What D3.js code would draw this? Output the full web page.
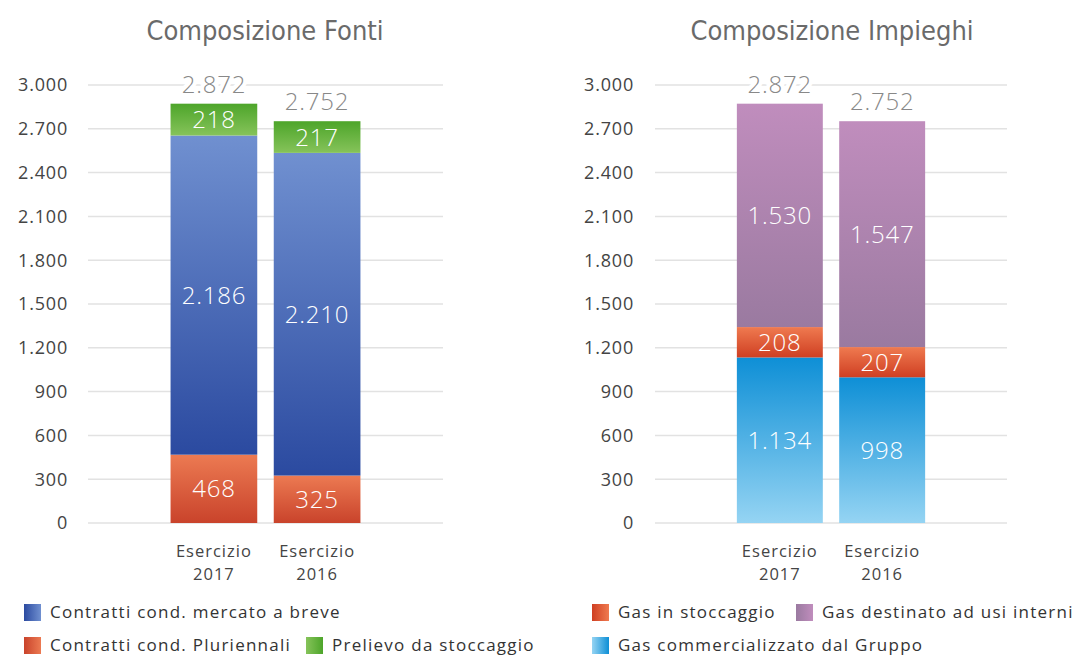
<!DOCTYPE html>
<html>
<head>
<meta charset="utf-8">
<script src="https://cdn.jsdelivr.net/npm/d3@7"></script>
<style>
  body { margin: 0; background: #fff; }
  svg text { font-family: "Open Sans", Lato, sans-serif; }
</style>
</head>
<body>
<svg id="chart" width="1085" height="656"></svg>
<script>
// data
var categories = ['2017', '2016'];
var categoryLines = [['Esercizio', '2017'], ['Esercizio', '2016']];
var yTicks = [0, 300, 600, 900, 1200, 1500, 1800, 2100, 2400, 2700, 3000];

var fontiKeys = ['pluriennali', 'breve', 'prelievo'];
var fontiPluriennali = [468, 325];
var fontiBreve = [2186, 2210];
var fontiPrelievo = [218, 217];
var fontiTotals = [2872, 2752];

var impieghiKeys = ['commerc', 'stoccaggio', 'interni'];
var impieghiCommerc = [1134, 998];
var impieghiStoccaggio = [208, 207];
var impieghiInterni = [1530, 1547];
var impieghiTotals = [2872, 2752];

// gradient colours (top, bottom)
var colors = {
  pluriennali: ['#ec7a52', '#c9432b'],
  breve: ['#7090d0', '#2b4aa0'],
  prelievo: ['#4da52a', '#86c35a'],
  commerc: ['#0e8fd6', '#95d4f3'],
  stoccaggio: ['#ef7a50', '#cf3f22'],
  interni: ['#c08dbd', '#9a7aa0']
};

var it = d3.formatLocale({decimal: ',', thousands: '.', grouping: [3], currency: ['€', '']});
var fmt = it.format(',d');

var svg = d3.select('#chart');
var defs = svg.append('defs');

Object.keys(colors).forEach(function (k) {
  var g = defs.append('linearGradient').attr('id', 'g-' + k)
    .attr('x1', 0).attr('y1', 0).attr('x2', 0).attr('y2', 1);
  g.append('stop').attr('offset', '0%').attr('stop-color', colors[k][0]);
  g.append('stop').attr('offset', '100%').attr('stop-color', colors[k][1]);
  var h = defs.append('linearGradient').attr('id', 'h-' + k)
    .attr('x1', 0).attr('y1', 0).attr('x2', 1).attr('y2', 0);
  h.append('stop').attr('offset', '0%').attr('stop-color', colors[k][1]);
  h.append('stop').attr('offset', '100%').attr('stop-color', colors[k][0]);
});

var y = d3.scaleLinear().domain([0, 3000]).range([523, 85]);

function buildRows(keys, arrays) {
  return categories.map(function (c, i) {
    var r = {cat: c};
    keys.forEach(function (k, j) { r[k] = arrays[j][i]; });
    return r;
  });
}

function drawPanel(opt) {
  var g = svg.append('g');
  var x = d3.scaleBand().domain(categories).range([opt.x0, opt.x1])
    .paddingInner(0.16).paddingOuter(0.8);

  // title
  g.append('text')
    .attr('x', opt.titleX).attr('y', 40)
    .attr('text-anchor', 'middle')
    .style('font-family', '"Liberation Sans Narrow", "DejaVu Sans Condensed", sans-serif')
    .style('font-size', '27px')
    .style('fill', '#6a6a6a')
    .text(opt.title);

  // grid
  g.append('g').selectAll('line').data(yTicks).enter().append('line')
    .attr('x1', opt.x0).attr('x2', opt.x1)
    .attr('y1', function (d) { return y(d); })
    .attr('y2', function (d) { return y(d); })
    .style('stroke', '#e2e2e2').style('stroke-width', 1.5);

  // y tick labels
  g.append('g').selectAll('text').data(yTicks).enter().append('text')
    .attr('x', opt.tickX)
    .attr('y', function (d) { return y(d); })
    .attr('dy', '0.35em')
    .attr('text-anchor', 'end')
    .style('font-size', '18px').style('fill', '#444').style('letter-spacing', '0.8px')
    .text(function (d) { return fmt(d); });

  var rows = buildRows(opt.keys, opt.arrays);
  var series = d3.stack().keys(opt.keys)(rows);

  var layers = g.selectAll('.layer').data(series).enter().append('g').attr('class', 'layer');
  layers.selectAll('rect').data(function (s) { return s.map(function (d) { return {key: s.key, d: d}; }); })
    .enter().append('rect')
    .attr('x', function (e) { return x(e.d.data.cat); })
    .attr('width', x.bandwidth())
    .attr('y', function (e) { return y(e.d[1]); })
    .attr('height', function (e) { return y(e.d[0]) - y(e.d[1]); })
    .style('fill', function (e) { return 'url(#g-' + e.key + ')'; });

  layers.selectAll('text').data(function (s) { return s.map(function (d) { return {key: s.key, d: d}; }); })
    .enter().append('text')
    .attr('x', function (e) { return x(e.d.data.cat) + x.bandwidth() / 2; })
    .attr('y', function (e) { return (y(e.d[0]) + y(e.d[1])) / 2; })
    .attr('dy', '0.36em')
    .attr('text-anchor', 'middle')
    .style('font-size', '24px').style('font-weight', 300).style('fill', '#fff')
    .style('letter-spacing', '0.8px')
    .text(function (e) { return fmt(e.d[1] - e.d[0]); });

  // totals
  g.append('g').selectAll('text').data(opt.totals).enter().append('text')
    .attr('x', function (d, i) { return x(categories[i]) + x.bandwidth() / 2; })
    .attr('y', function (d) { return y(d) - 11; })
    .attr('text-anchor', 'middle')
    .style('font-size', '24px').style('font-weight', 300).style('fill', '#888')
    .style('letter-spacing', '0.8px')
    .style('stroke', '#fff').style('stroke-width', 8).style('paint-order', 'stroke')
    .text(function (d) { return fmt(d); });

  // x labels
  var xl = g.append('g').selectAll('text').data(categoryLines).enter().append('text')
    .attr('x', function (d, i) { return x(categories[i]) + x.bandwidth() / 2; })
    .attr('text-anchor', 'middle')
    .style('font-size', '16.5px').style('fill', '#444').style('letter-spacing', '1px');
  xl.append('tspan').attr('y', 557).attr('x', function (d, i) { return x(categories[i]) + x.bandwidth() / 2; })
    .text(function (d) { return d[0]; });
  xl.append('tspan').attr('y', 580).attr('x', function (d, i) { return x(categories[i]) + x.bandwidth() / 2; })
    .text(function (d) { return d[1]; });

  // legend
  var lg = g.append('g').selectAll('g').data(opt.legend).enter().append('g')
    .attr('transform', function (d) { return 'translate(' + d.x + ',' + d.y + ')'; });
  lg.append('rect').attr('x', 0).attr('y', -8).attr('width', 17).attr('height', 17)
    .style('fill', function (d) { return 'url(#h-' + d.key + ')'; });
  lg.append('text').attr('x', 26).attr('y', 0).attr('dy', '0.35em')
    .style('font-size', '17px').style('fill', '#333').style('letter-spacing', '1.25px')
    .text(function (d) { return d.label; });
}

drawPanel({
  title: 'Composizione Fonti', titleX: 265,
  x0: 88, x1: 443, tickX: 68,
  keys: fontiKeys,
  arrays: [fontiPluriennali, fontiBreve, fontiPrelievo],
  totals: fontiTotals,
  legend: [
    {key: 'breve', label: 'Contratti cond. mercato a breve', x: 24, y: 612},
    {key: 'pluriennali', label: 'Contratti cond. Pluriennali', x: 24, y: 645},
    {key: 'prelievo', label: 'Prelievo da stoccaggio', x: 306, y: 645}
  ]
});

drawPanel({
  title: 'Composizione Impieghi', titleX: 832,
  x0: 655, x1: 1007, tickX: 634,
  keys: impieghiKeys,
  arrays: [impieghiCommerc, impieghiStoccaggio, impieghiInterni],
  totals: impieghiTotals,
  legend: [
    {key: 'stoccaggio', label: 'Gas in stoccaggio', x: 592, y: 612},
    {key: 'interni', label: 'Gas destinato ad usi interni', x: 796, y: 612},
    {key: 'commerc', label: 'Gas commercializzato dal Gruppo', x: 592, y: 645}
  ]
});
</script>
</body>
</html>
